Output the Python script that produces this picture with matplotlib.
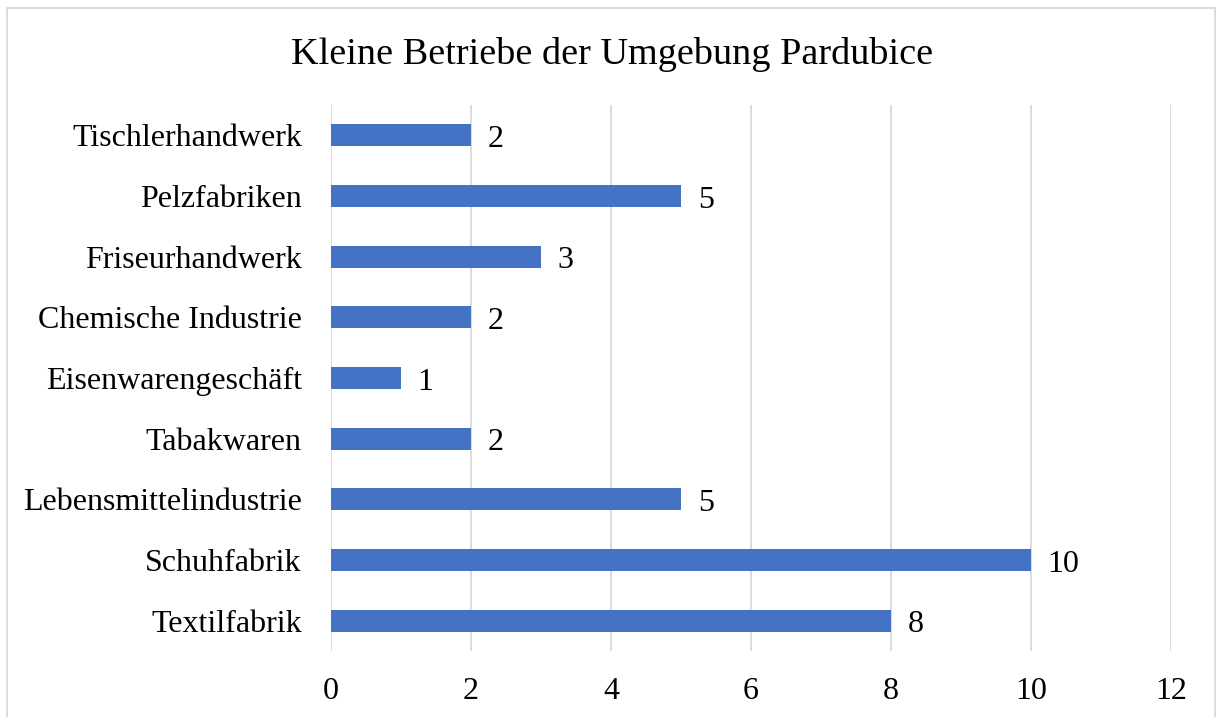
import matplotlib.pyplot as plt
from matplotlib.patches import Rectangle

categories = ["Textilfabrik", "Schuhfabrik", "Lebensmittelindustrie", "Tabakwaren",
              "Eisenwarengeschäft", "Chemische Industrie", "Friseurhandwerk",
              "Pelzfabriken", "Tischlerhandwerk"]
values = [8, 10, 5, 2, 1, 2, 3, 5, 2]
xticks = [0, 2, 4, 6, 8, 10, 12]

plt.rcParams['font.family'] = ['Liberation Serif', 'DejaVu Serif']

W, H = 1222, 717
fig = plt.figure(figsize=(W / 100, H / 100), dpi=100)
ax = fig.add_axes([331 / W, 1 - 651 / H, (1171 - 331) / W, (651 - 105) / H])

pos = range(len(categories))
ax.barh(pos, values, height=0.36, color="#4472C4")
ax.set_ylim(-0.5, len(categories) - 0.5)
ax.set_xlim(0, 12)
ax.set_xticks(xticks)
ax.set_xticklabels([str(t) for t in xticks], fontsize=23)
ax.set_yticks(list(pos))
ax.set_yticklabels(categories, fontsize=23)
ax.tick_params(axis="both", length=0)
ax.tick_params(axis="x", pad=19)
ax.tick_params(axis="y", pad=21)
ax.grid(axis="x", color="#D9D9D9", linewidth=1.3)
ax.set_axisbelow(True)
for s in ax.spines.values():
    s.set_visible(False)

for p, v in zip(pos, values):
    ax.annotate(str(v), (v, p), xytext=(12, -3), textcoords="offset points",
                va="center", ha="left", fontsize=23)

fig.text(612 / W, 1 - 54 / H, "Kleine Betriebe der Umgebung Pardubice",
         ha="center", va="center", fontsize=27.5)

fig.patches.append(Rectangle((6.5 / W, -0.05), (1215 - 6.5) / W, 1.05 - 7.5 / H,
                             transform=fig.transFigure, fill=False,
                             edgecolor="#D9D9D9", linewidth=1.3, clip_on=False))

fig.savefig("out.png", dpi=100, facecolor="white")
